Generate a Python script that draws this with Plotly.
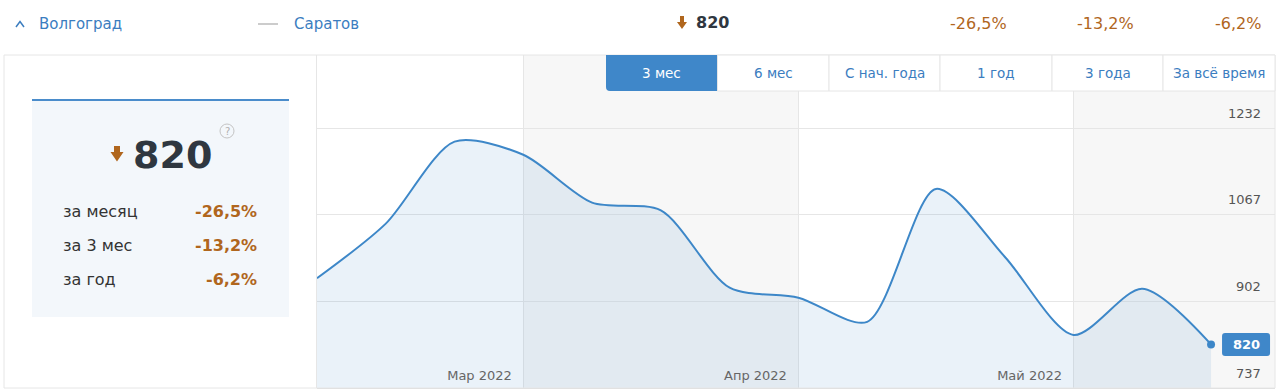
import plotly.graph_objects as go

# ---------------- data ----------------
values = [946, 1050, 1206, 1181, 1090, 1075, 928, 909, 863, 1116, 987, 838, 926, 820]
month_labels = ["Мар 2022", "Апр 2022", "Май 2022"]
month_start_index = [3, 7, 11]
y_ticks = [737, 902, 1067, 1232]
city_main = "Волгоград"
city_compare = "Саратов"
current_value = 820
change_labels = ["за месяц", "за 3 мес", "за год"]
change_values = ["-26,5%", "-13,2%", "-6,2%"]
range_buttons = ["3 мес", "6 мес", "С нач. года", "1 год", "3 года", "За всё время"]
active_button = 0

# ---------------- style ----------------
FONT = "DejaVu Sans"
BLUE = "#3d87c8"
LINK = "#3b7dbf"
BROWN = "#b0661d"
DARK = "#2f3740"
GRID = "#e6e6e6"
BAND = "#f7f7f7"

W, H = 1280, 392
L, R, T, B = 317, 1275, 55, 388


def px(x):
    return (x - L) / (R - L)


def py(y):
    return (B - y) / (B - T)


def pth(points, close=True):
    s = "M " + " L ".join(f"{px(x):.5f},{py(y):.5f}" for x, y in points)
    return s + (" Z" if close else "")


idx = list(range(len(values)))
n = len(values)

fig = go.Figure()
fig.add_trace(go.Scatter(
    x=idx, y=values, mode="lines",
    line=dict(color=BLUE, width=2, shape="spline", smoothing=0.8),
    fill="tozeroy", fillcolor="rgba(61,135,200,0.11)",
    hoverinfo="skip", showlegend=False))
fig.add_trace(go.Scatter(
    x=[idx[-1]], y=[values[-1]], mode="markers",
    marker=dict(size=8, color=BLUE), hoverinfo="skip", showlegend=False))

shapes = []
annotations = []

# alternating month bands
bounds = month_start_index + [n - 1 + 0.93]
for i in range(0, len(bounds) - 1, 2):
    shapes.append(dict(type="rect", xref="x", yref="paper", x0=bounds[i], x1=bounds[i + 1],
                       y0=0, y1=1, fillcolor=BAND, line_width=0, layer="below"))

# outer border and left panel divider
shapes.append(dict(type="rect", xref="paper", yref="paper", x0=px(4), x1=px(1275), y0=py(388), y1=py(55),
                   line=dict(color=GRID, width=1), fillcolor="rgba(0,0,0,0)", layer="above"))
shapes.append(dict(type="line", xref="paper", yref="paper", x0=px(316.5), x1=px(316.5), y0=py(388), y1=py(55),
                   line=dict(color=GRID, width=1), layer="above"))

# y tick labels (placed with the y scale, inside the plot above each grid line)
for t in y_ticks:
    annotations.append(dict(text=str(t), x=1, y=t, xref="paper", yref="y", xanchor="right", yanchor="middle",
                            xshift=-12, yshift=15, font=dict(family=FONT, size=13, color="#555555")))

# ---------------- header row ----------------
shapes.append(dict(type="path", xref="paper", yref="paper",
                   path=pth([(16, 27), (20, 21.5), (24, 27)], close=False),
                   line=dict(color=LINK, width=1.5)))
annotations.append(dict(text=city_main, x=px(37), y=py(24), xanchor="left", yanchor="middle",
                        font=dict(family=FONT, size=15, color=LINK)))
shapes.append(dict(type="line", xref="paper", yref="paper", x0=px(258), x1=px(278), y0=py(24), y1=py(24),
                   line=dict(color="#cccccc", width=2)))
annotations.append(dict(text=city_compare, x=px(292), y=py(24), xanchor="left", yanchor="middle",
                        font=dict(family=FONT, size=15, color=LINK)))
# header arrow
shapes.append(dict(type="path", xref="paper", yref="paper",
                   path=pth([(680, 16), (684, 16), (684, 22), (687, 22), (682, 29), (677, 22), (680, 22)]),
                   fillcolor=BROWN, line_width=0))
annotations.append(dict(text=f"<b>{current_value}</b>", x=px(694), y=py(23), xanchor="left", yanchor="middle",
                        font=dict(family=FONT, size=16, color=DARK)))
for v, xr in zip(change_values, [1009, 1136, 1263]):
    annotations.append(dict(text=v, x=px(xr), y=py(24), xanchor="right", yanchor="middle",
                            font=dict(family=FONT, size=16, color=BROWN)))

# ---------------- left card ----------------
shapes.append(dict(type="rect", xref="paper", yref="paper", x0=px(32), x1=px(289), y0=py(317), y1=py(100),
                   fillcolor="#f3f7fb", line_width=0, layer="above"))
shapes.append(dict(type="line", xref="paper", yref="paper", x0=px(32), x1=px(289), y0=py(100), y1=py(100),
                   line=dict(color="#4a8ccb", width=2), layer="above"))
shapes.append(dict(type="path", xref="paper", yref="paper",
                   path=pth([(114, 146), (120, 146), (120, 152), (123.5, 152), (117, 161.5), (110.5, 152), (114, 152)]),
                   fillcolor=BROWN, line_width=0, layer="above"))
annotations.append(dict(text=f"<b>{current_value}</b>", x=px(172), y=py(155), xanchor="center", yanchor="middle",
                        font=dict(family=FONT, size=38, color=DARK)))
shapes.append(dict(type="circle", xref="paper", yref="paper", x0=px(220), x1=px(234), y0=py(138), y1=py(124),
                   line=dict(color="#c4c4c4", width=1), fillcolor="rgba(0,0,0,0)", layer="above"))
annotations.append(dict(text="?", x=px(227), y=py(131), xanchor="center", yanchor="middle",
                        font=dict(family=FONT, size=10, color="#b0b0b0")))
for lab, v, yy in zip(change_labels, change_values, [211, 245, 279]):
    annotations.append(dict(text=lab, x=px(61), y=py(yy), xanchor="left", yanchor="middle",
                            font=dict(family=FONT, size=16, color="#333333")))
    annotations.append(dict(text=f"<b>{v}</b>", x=px(259), y=py(yy), xanchor="right", yanchor="middle",
                            font=dict(family=FONT, size=16, color=BROWN)))

# ---------------- range buttons ----------------
edges = [606, 717.5, 829, 940, 1052, 1163, 1275]
for i, lab in enumerate(range_buttons):
    x0, x1 = edges[i], edges[i + 1]
    if i == active_button:
        r = 4
        shapes.append(dict(type="path", xref="paper", yref="paper",
                           path=(f"M {px(x0):.5f},{py(55):.5f} L {px(x1):.5f},{py(55):.5f} "
                                 f"L {px(x1):.5f},{py(91):.5f} L {px(x0 + r):.5f},{py(91):.5f} "
                                 f"Q {px(x0):.5f},{py(91):.5f} {px(x0):.5f},{py(91 - r):.5f} Z"),
                           fillcolor="#3f87c9", line_width=0, layer="above"))
        col = "#ffffff"
    else:
        shapes.append(dict(type="rect", xref="paper", yref="paper", x0=px(x0), x1=px(x1), y0=py(91), y1=py(55),
                           fillcolor="#ffffff", line=dict(color=GRID, width=1), layer="above"))
        col = LINK
    annotations.append(dict(text=lab, x=px((x0 + x1) / 2), y=py(73), xanchor="center", yanchor="middle",
                            font=dict(family=FONT, size=13.5, color=col)))

# ---------------- last value badge ----------------
bx0, bx1, bh, rr = 11, 59, 11.5, 3
badge = (f"M {bx0 + rr},{-bh} L {bx1 - rr},{-bh} Q {bx1},{-bh} {bx1},{-bh + rr} "
         f"L {bx1},{bh - rr} Q {bx1},{bh} {bx1 - rr},{bh} L {bx0 + rr},{bh} "
         f"Q {bx0},{bh} {bx0},{bh - rr} L {bx0},{-bh + rr} Q {bx0},{-bh} {bx0 + rr},{-bh} Z")
shapes.append(dict(type="path", xref="x", yref="y", xsizemode="pixel", ysizemode="pixel",
                   xanchor=idx[-1], yanchor=values[-1], path=badge,
                   fillcolor="#3f87c9", line_width=0, layer="above"))
annotations.append(dict(text=f"<b>{values[-1]}</b>", x=idx[-1], y=values[-1], xref="x", yref="y",
                        xshift=35, xanchor="center", yanchor="middle",
                        font=dict(family=FONT, size=13, color="#ffffff")))

for a in annotations:
    a.setdefault("xref", "paper")
    a.setdefault("yref", "paper")
    a["showarrow"] = False

fig.update_layout(
    width=W, height=H,
    margin=dict(l=L, r=W - R, t=T, b=H - B, pad=0),
    paper_bgcolor="#ffffff", plot_bgcolor="#ffffff",
    font=dict(family=FONT),
    showlegend=False,
    shapes=shapes, annotations=annotations,
    hovermode=False,
    xaxis=dict(range=[0, n - 1 + 0.93], tickvals=month_start_index, ticktext=month_labels,
               ticklabelposition="inside left", ticks="", showgrid=True, gridcolor=GRID, gridwidth=1,
               zeroline=False, showline=True, linecolor="#dddddd", linewidth=1,
               tickfont=dict(family=FONT, size=13, color="#666666"),
               ticklabelstandoff=2, ticklabelshift=-11, fixedrange=True),
    yaxis=dict(range=[737, 1371], side="right", tickvals=y_ticks, showticklabels=False, ticks="",
               showgrid=True, gridcolor=GRID, gridwidth=1,
               zeroline=False, showline=False, fixedrange=True),
)

fig.write_html("out.html", config={"displayModeBar": False},
               post_script="document.body.style.margin='0';document.body.style.overflow='hidden';")
